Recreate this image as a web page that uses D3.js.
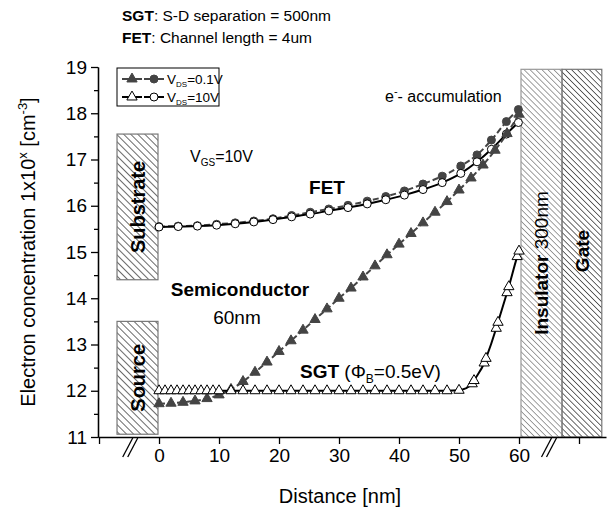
<!DOCTYPE html>
<html><head><meta charset="utf-8">
<script src="https://cdn.jsdelivr.net/npm/d3@7"></script>
<style>body{margin:0;background:#fff} svg{font-family:"Liberation Sans",Arial,sans-serif}</style>
</head><body>
<script>
// FET curves (circles)
var fetX = [0, 3.2, 6.4, 9.6, 12.7, 15.8, 19, 22.1, 25.2, 28.3, 31.5, 34.7, 37.8, 40.9, 44, 47.2, 50.3, 53, 55.4, 57.9, 59.9]
var fet01 = [15.55, 15.56, 15.57, 15.6, 15.63, 15.67, 15.72, 15.79, 15.86, 15.93, 16.01, 16.1, 16.2, 16.32, 16.47, 16.64, 16.86, 17.1, 17.42, 17.82, 18.08]
var fet10 = [15.54, 15.55, 15.56, 15.58, 15.61, 15.65, 15.7, 15.76, 15.82, 15.89, 15.96, 16.04, 16.13, 16.23, 16.35, 16.5, 16.7, 16.95, 17.22, 17.55, 17.8]
// SGT curves (triangles)
var sgtX01 = [0, 2, 4, 6, 8, 10, 12, 14, 16, 18, 20, 22, 24, 26, 28, 30, 32, 34, 36, 38, 40, 42, 44, 46, 48, 50, 52, 54, 56, 58, 60]
var sgt01 = [11.72, 11.73, 11.75, 11.78, 11.83, 11.91, 12.03, 12.2, 12.4, 12.62, 12.85, 13.08, 13.31, 13.54, 13.77, 14.0, 14.22, 14.46, 14.7, 14.94, 15.17, 15.4, 15.63, 15.86, 16.09, 16.34, 16.6, 16.88, 17.2, 17.56, 17.98]
var sgtX10 = [0, 1, 2, 3, 4, 5, 6, 7, 8, 9, 10, 12, 14, 16, 18, 20, 22, 24, 26, 28, 30, 32, 34, 36, 38, 40, 42, 44, 46, 48, 50, 52.2, 52.5, 54.2, 54.5, 56.2, 56.5, 58, 58.3, 59.7, 60]
var sgt10 = [12, 12, 12, 12, 12, 12, 12, 12, 12, 12, 12, 12, 12, 12, 12, 12, 12, 12, 12, 12, 12, 12, 12, 12, 12, 12, 12, 12, 12, 12, 12.01, 12.15, 12.22, 12.6, 12.7, 13.35, 13.48, 14.12, 14.25, 14.9, 15.02]

var yTicks = [11, 12, 13, 14, 15, 16, 17, 18, 19]
var xTicks = [-10, 0, 10, 20, 30, 40, 50, 60, 70]

// shaded regions, in axis units
var regions = [
  {name: "Substrate", x0: -7, x1: -0.17, y0: 17.55, y1: 14.4, col: "#444"},
  {name: "Source", x0: -7, x1: -0.17, y0: 13.5, y1: 11.06, col: "#444"},
  {name: "Insulator", x0: 60.33, x1: 67.17, y0: 18.95, y1: 11, col: "#888"},
  {name: "Gate", x0: 67.17, x1: 73.8, y0: 18.95, y1: 11, col: "#444"}
]

var svg = d3.select("body").append("svg").attr("width", 608).attr("height", 511)
var x = d3.scaleLinear().domain([-10.17, 74.5]).range([98, 606])
var y = d3.scaleLinear().domain([11, 19]).range([437, 67])

var defs = svg.append("defs")
regions.forEach(function(r, i) {
  var gap = i < 2 ? 5 : 4.2
  var p = defs.append("pattern").attr("id", "h" + i).attr("patternUnits", "userSpaceOnUse")
    .attr("width", gap).attr("height", gap).attr("patternTransform", "rotate(-45)")
  p.append("line").attr("x1", gap / 2).attr("y1", -1).attr("x2", gap / 2).attr("y2", gap + 1)
    .style("stroke", r.col).style("stroke-width", 0.8)
})
svg.append("g").selectAll("rect").data(regions).enter().append("rect")
  .attr("x", function(d) { return x(d.x0) })
  .attr("y", function(d) { return y(d.y0) })
  .attr("width", function(d) { return x(d.x1) - x(d.x0) })
  .attr("height", function(d) { return y(d.y1) - y(d.y0) })
  .style("fill", function(d, i) { return "url(#h" + i + ")" })
  .style("stroke", function(d) { return d.name == "Insulator" ? "#999" : "#777" })
  .style("stroke-width", 1.2)

// region labels
function vlabel(cx, cy, parts, size) {
  var t = svg.append("text").attr("transform", "translate(" + cx + "," + cy + ") rotate(-90)")
    .attr("text-anchor", "middle").attr("dy", "0.35em").style("font-size", size + "px")
  parts.forEach(function(p) { t.append("tspan").text(p[0]).style("font-weight", p[1] ? "bold" : "normal") })
}
vlabel((x(-7) + x(-0.17)) / 2, (y(17.55) + y(14.4)) / 2, [["Substrate", 1]], 20)
vlabel((x(-7) + x(-0.17)) / 2, (y(13.5) + y(11.06)) / 2, [["Source", 1]], 20)
vlabel((x(60.33) + x(67.17)) / 2, 263, [["Insulator", 1], [" 300nm", 0]], 19)
vlabel((x(67.17) + x(73.8)) / 2, 251, [["Gate", 1]], 19)

// axes
var ax = svg.append("g").attr("transform", "translate(98,0)")
  .call(d3.axisLeft(y).tickValues(yTicks).tickSize(7).tickSizeOuter(0).tickPadding(4))
ax.selectAll("text").style("font-size", "19px").style("font-family", "Liberation Sans, Arial, sans-serif")
svg.append("g").attr("transform", "translate(98,0)")
  .call(d3.axisLeft(y).tickValues(d3.range(11.5, 19, 1)).tickSize(4).tickFormat("").tickSizeOuter(0))
var bx = svg.append("g").attr("transform", "translate(0,437)")
  .call(d3.axisBottom(x).tickValues(xTicks).tickSize(7).tickSizeOuter(0).tickPadding(5)
    .tickFormat(function(d) { return d < 0 || d > 60 ? "" : d }))
bx.selectAll("text").style("font-size", "19px").style("font-family", "Liberation Sans, Arial, sans-serif")
svg.selectAll(".domain, .tick line").style("stroke", "#000").style("stroke-width", 1.3)

// axis breaks
;[-4.8, 65].forEach(function(b) {
  [-2.5, 2.5].forEach(function(o) {
    svg.append("line").attr("x1", x(b) + o - 5).attr("y1", 457).attr("x2", x(b) + o + 5).attr("y2", 438)
      .style("stroke", "#000").style("stroke-width", 1.3)
  })
})

// axis titles
svg.append("text").attr("x", 340).attr("y", 503).attr("text-anchor", "middle").style("font-size", "20px").text("Distance [nm]")
var yt = svg.append("text").attr("transform", "translate(35,252) rotate(-90)").attr("text-anchor", "middle").style("font-size", "20px")
yt.append("tspan").text("Electron concentration 1x10")
yt.append("tspan").text("x").attr("dy", -8).style("font-size", "13px")
yt.append("tspan").text(" [cm").attr("dy", 8)
yt.append("tspan").text("-3").attr("dy", -8).style("font-size", "13px")
yt.append("tspan").text("]").attr("dy", 8)

// series
var line = d3.line().curve(d3.curveMonotoneX).x(function(d) { return x(d[0]) }).y(function(d) { return y(d[1]) })
var tri = d3.symbol().type(d3.symbolTriangle).size(46)
var series = [
  {xs: fetX, ys: fet01, m: "c", fill: "#444", stroke: "#444", dash: "6,3"},
  {xs: fetX, ys: fet10, m: "c", fill: "#fff", stroke: "#000", dash: null},
  {xs: sgtX01, ys: sgt01, m: "t", fill: "#444", stroke: "#444", dash: "6,3"},
  {xs: sgtX10, ys: sgt10, m: "t", fill: "#fff", stroke: "#000", dash: null}
]
series.forEach(function(s) {
  var pts = s.xs.map(function(v, i) { return [v, s.ys[i]] })
  svg.append("path").datum(pts).attr("d", line).style("fill", "none")
    .style("stroke", s.stroke).style("stroke-width", 2).style("stroke-dasharray", s.dash)
  var g = svg.append("g")
  if (s.m == "c") {
    g.selectAll("circle").data(pts).enter().append("circle")
      .attr("cx", function(d) { return x(d[0]) }).attr("cy", function(d) { return y(d[1]) }).attr("r", 4)
      .style("fill", s.fill).style("stroke", s.stroke).style("stroke-width", 1)
  } else {
    g.selectAll("path").data(pts).enter().append("path").attr("d", tri)
      .attr("transform", function(d) { return "translate(" + x(d[0]) + "," + y(d[1]) + ")" })
      .style("fill", s.fill).style("stroke", s.stroke).style("stroke-width", 1)
  }
})

// legend
var legend = [
  {fill: "#444", stroke: "#444", label: "0.1V"},
  {fill: "#fff", stroke: "#000", label: "10V"}
]
svg.append("rect").attr("x", 117).attr("y", 68).attr("width", 102).attr("height", 38)
  .style("fill", "#fff").style("stroke", "#000").style("stroke-width", 1)
legend.forEach(function(l, i) {
  var ly = 79 + i * 18
  svg.append("line").attr("x1", 122).attr("x2", 142).attr("y1", ly).attr("y2", ly).style("stroke", l.stroke).style("stroke-width", 2)
  svg.append("line").attr("x1", 144).attr("x2", 164).attr("y1", ly).attr("y2", ly).style("stroke", l.stroke).style("stroke-width", 2)
  svg.append("path").attr("d", tri).attr("transform", "translate(132," + ly + ")").style("fill", l.fill).style("stroke", l.stroke)
  svg.append("circle").attr("cx", 154).attr("cy", ly).attr("r", 4).style("fill", l.fill).style("stroke", l.stroke)
  var t = svg.append("text").attr("x", 167).attr("y", ly + 5).style("font-size", "13.5px")
  t.append("tspan").text("V")
  t.append("tspan").text("DS").attr("dy", 3).style("font-size", "8px")
  t.append("tspan").text("=" + l.label).attr("dy", -3)
})

// annotations
var h1 = svg.append("text").attr("x", 122).attr("y", 21).style("font-size", "15.5px")
h1.append("tspan").text("SGT").style("font-weight", "bold")
h1.append("tspan").text(": S-D separation = 500nm")
var h2 = svg.append("text").attr("x", 122).attr("y", 43).style("font-size", "15.5px")
h2.append("tspan").text("FET").style("font-weight", "bold")
h2.append("tspan").text(": Channel length = 4um")

var ea = svg.append("text").attr("x", 385).attr("y", 102).style("font-size", "16px")
ea.append("tspan").text("e")
ea.append("tspan").text("-").attr("dy", -7).style("font-size", "11px")
ea.append("tspan").text("- accumulation").attr("dy", 7)

var vg = svg.append("text").attr("x", 190).attr("y", 162).style("font-size", "16px")
vg.append("tspan").text("V")
vg.append("tspan").text("GS").attr("dy", 4).style("font-size", "10px")
vg.append("tspan").text("=10V").attr("dy", -4)

svg.append("text").attr("x", 327).attr("y", 194).attr("text-anchor", "middle").style("font-size", "19px").style("font-weight", "bold").text("FET")
svg.append("text").attr("x", 240).attr("y", 296).attr("text-anchor", "middle").style("font-size", "19px").style("font-weight", "bold").text("Semiconductor")
svg.append("text").attr("x", 237).attr("y", 324).attr("text-anchor", "middle").style("font-size", "19px").text("60nm")

var sg = svg.append("text").attr("x", 300).attr("y", 378).style("font-size", "19px")
sg.append("tspan").text("SGT").style("font-weight", "bold")
sg.append("tspan").text(" (\u03A6")
sg.append("tspan").text("B").attr("dy", 5).style("font-size", "12px")
sg.append("tspan").text("=0.5eV)").attr("dy", -5)
</script>
</body></html>
